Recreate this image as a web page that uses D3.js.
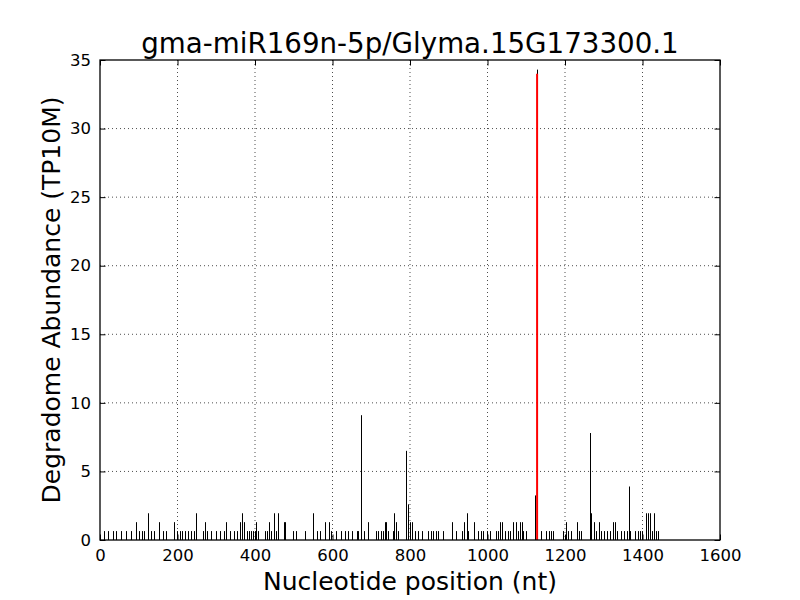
<!DOCTYPE html>
<html>
<head>
<meta charset="utf-8">
<script src="https://cdn.jsdelivr.net/npm/d3@7"></script>
<style>
  body { margin: 0; background: #fff; }
  svg { display: block; font-family: "DejaVu Sans", sans-serif; }
  .grid line { stroke: #000; stroke-width: 0.7; stroke-dasharray: 1 3; }
</style>
</head>
<body>
<svg id="chart" width="800" height="600"></svg>
<script>
const title = "gma-miR169n-5p/Glyma.15G173300.1";
const xTicks = [0, 200, 400, 600, 800, 1000, 1200, 1400, 1600];
const yTicks = [0, 5, 10, 15, 20, 25, 30, 35];

// position (nt) and abundance (TP10M) of each degradome read peak
const positions = [
  10, 21, 34, 41, 54, 67, 80, 93, 101, 108, 114, 124, 132, 139, 152, 163, 170,
  191, 199, 206, 212, 219, 227, 235, 243, 248, 266, 271, 276, 286, 299, 310,
  320, 325, 335, 346, 354, 361, 366, 372, 379, 385, 390, 395, 400, 403, 408,
  426, 431, 436, 441, 449, 454, 459, 475, 477, 498, 506, 529, 550, 560, 568,
  581, 591, 596, 609, 622, 632, 640, 650, 663, 666, 674, 681, 692, 712, 717,
  725, 730, 735, 738, 743, 756, 759, 764, 769, 790, 795, 800, 805, 813, 821,
  831, 846, 854, 859, 867, 872, 885, 908, 919, 934, 939, 947, 950, 965, 975,
  983, 988, 999, 1006, 1022, 1027, 1032, 1037, 1045, 1053, 1058, 1066, 1074,
  1079, 1084, 1089, 1092, 1099, 1123, 1128, 1138, 1151, 1159, 1164, 1169,
  1195, 1203, 1208, 1215, 1231, 1236, 1241, 1265, 1267, 1275, 1280, 1288,
  1293, 1301, 1308, 1316, 1324, 1329, 1334, 1345, 1352, 1360, 1365, 1368,
  1381, 1388, 1393, 1399, 1409, 1414, 1419, 1425, 1430, 1435, 1440
];
const abundance = [
  0.65, 0.65, 0.65, 0.65, 0.65, 0.65, 0.65, 1.3, 0.65, 0.65, 0.65, 1.95, 0.65, 0.65, 1.3, 0.65, 0.65,
  1.3, 0.65, 0.65, 0.65, 0.65, 0.65, 0.65, 0.65, 1.95, 0.65, 1.3, 0.65, 0.65, 0.65, 0.65,
  0.65, 1.3, 0.65, 0.65, 0.65, 1.3, 1.95, 1.3, 0.65, 0.65, 0.65, 0.65, 0.65, 1.3, 0.65,
  0.65, 0.65, 1.3, 0.65, 1.95, 0.65, 1.95, 1.3, 1.3, 0.65, 0.65, 0.65, 1.95, 0.65, 0.65,
  1.3, 1.3, 0.65, 0.65, 0.65, 0.65, 0.65, 0.65, 0.65, 0.65, 9.1, 0.65, 1.3, 0.65, 0.65,
  0.65, 0.65, 1.3, 1.3, 0.65, 0.65, 1.95, 1.3, 0.65, 6.5, 2.6, 1.3, 1.3, 0.65, 0.65,
  0.65, 0.65, 0.65, 0.65, 0.65, 0.65, 0.65, 1.3, 0.65, 0.65, 1.3, 1.95, 0.65, 1.3, 0.65,
  0.65, 0.65, 0.65, 0.65, 0.65, 0.65, 1.3, 1.3, 0.65, 0.65, 0.65, 1.3, 1.3,
  0.65, 1.3, 1.3, 0.65, 0.65, 3.25, 34.3, 0.65, 0.65, 0.65, 0.65, 0.65,
  0.65, 1.3, 0.65, 0.65, 1.3, 0.65, 0.65, 7.8, 1.95, 1.3, 0.65, 1.3,
  0.65, 0.65, 0.65, 0.65, 1.3, 1.3, 0.65, 0.65, 0.65, 0.65, 3.9, 0.65,
  0.65, 0.65, 0.65, 0.65, 1.95, 1.95, 1.95, 0.65, 1.95, 0.65, 0.65
];

// the predicted cleavage site, drawn in red
const targetPos = 1128;
const targetValue = 34.0;

const svg = d3.select("#chart");
const margin = { top: 60, right: 80, bottom: 60, left: 100 };
const width = 800, height = 600;
const innerW = width - margin.left - margin.right;
const innerH = height - margin.top - margin.bottom;

const x = d3.scaleLinear().domain([0, 1600]).range([0, innerW]);
const y = d3.scaleLinear().domain([0, 35]).range([innerH, 0]);

const g = svg.append("g").attr("transform", `translate(${margin.left},${margin.top})`);

// dotted grid
g.append("g").attr("class", "grid")
  .selectAll("line").data(xTicks.slice(1, -1)).join("line")
  .attr("x1", d => x(d)).attr("x2", d => x(d))
  .attr("y1", 0).attr("y2", innerH);
g.append("g").attr("class", "grid")
  .selectAll("line").data(yTicks.slice(1, -1)).join("line")
  .attr("x1", 0).attr("x2", innerW)
  .attr("y1", d => y(d)).attr("y2", d => y(d));

const peaks = positions.map((p, i) => ({ p, v: abundance[i] }));

g.append("g")
  .selectAll("line").data(peaks).join("line")
  .attr("x1", d => Math.round(x(d.p)) + 0.5)
  .attr("x2", d => Math.round(x(d.p)) + 0.5)
  .attr("y1", y(0))
  .attr("y2", d => y(d.v))
  .attr("stroke", "#000")
  .attr("stroke-width", 1);

g.append("line")
  .attr("x1", x(targetPos)).attr("x2", x(targetPos))
  .attr("y1", y(0)).attr("y2", y(targetValue))
  .attr("stroke", "#ff0000")
  .attr("stroke-width", 2);

// axes: ticks pointing inward on all four sides
const tickLen = 5.5;
const fmt = d3.format("d");
const axisBottom = d3.axisBottom(x).tickValues(xTicks).tickFormat(fmt).tickSizeInner(-tickLen).tickSizeOuter(0).tickPadding(9);
const axisTop = d3.axisTop(x).tickValues(xTicks).tickSizeInner(-tickLen).tickSizeOuter(0).tickFormat("");
const axisLeft = d3.axisLeft(y).tickValues(yTicks).tickFormat(fmt).tickSizeInner(-tickLen).tickSizeOuter(0).tickPadding(9);
const axisRight = d3.axisRight(y).tickValues(yTicks).tickSizeInner(-tickLen).tickSizeOuter(0).tickFormat("");

function styleAxis(sel) {
  sel.select(".domain").remove();
  sel.selectAll("line").attr("stroke", "#000").attr("stroke-width", 1);
  sel.selectAll("text").attr("font-size", 16.5).attr("fill", "#000")
    .attr("font-family", "DejaVu Sans, sans-serif");
}

g.append("g").attr("transform", `translate(0,${innerH})`).call(axisBottom).call(styleAxis);
g.append("g").call(axisTop).call(styleAxis);
g.append("g").call(axisLeft).call(styleAxis);
g.append("g").attr("transform", `translate(${innerW},0)`).call(axisRight).call(styleAxis);

g.append("rect")
  .attr("width", innerW).attr("height", innerH)
  .attr("fill", "none").attr("stroke", "#000").attr("stroke-width", 1.3);

svg.append("text")
  .attr("x", margin.left + innerW / 2).attr("y", 53)
  .attr("text-anchor", "middle")
  .attr("font-size", 27.7)
  .text(title);

svg.append("text")
  .attr("x", margin.left + innerW / 2).attr("y", 590)
  .attr("text-anchor", "middle")
  .attr("font-size", 25)
  .text("Nucleotide position (nt)");

svg.append("text")
  .attr("transform", `translate(60,${margin.top + innerH / 2}) rotate(-90)`)
  .attr("text-anchor", "middle")
  .attr("font-size", 25)
  .text("Degradome Abundance (TP10M)");
</script>
</body>
</html>
